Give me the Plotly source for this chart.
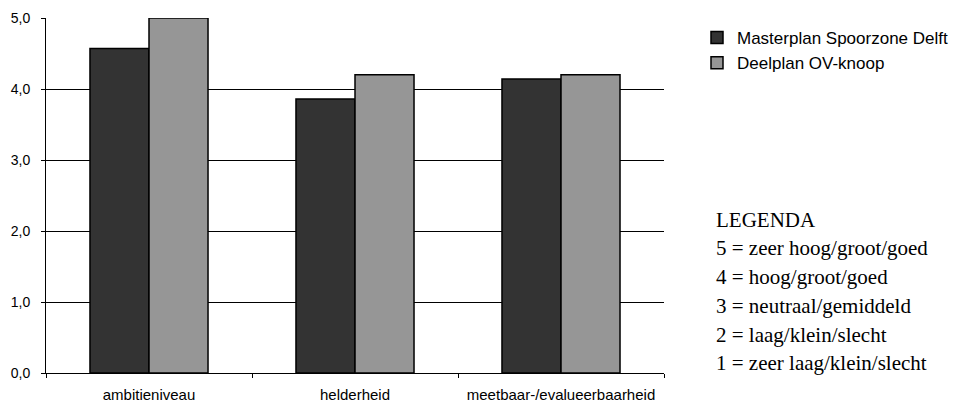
import plotly.graph_objects as go

# Scores per criterion for the two plans
categories = ["ambitieniveau", "helderheid", "meetbaar-/evalueerbaarheid"]
masterplan = [4.57, 3.86, 4.14]
deelplan = [5.0, 4.2, 4.2]
series_names = ["Masterplan Spoorzone Delft", "Deelplan OV-knoop"]
y_ticks = [0, 1, 2, 3, 4, 5]
legend_lines = [
    "LEGENDA",
    "5 = zeer hoog/groot/goed",
    "4 = hoog/groot/goed",
    "3 = neutraal/gemiddeld",
    "2 = laag/klein/slecht",
    "1 = zeer laag/klein/slecht",
]

W, H = 967, 403
L, R, T, B = 46, 303, 18, 30
plot_w = W - L - R
plot_h = H - T - B

sans = "Liberation Sans, Arial, sans-serif"
serif = "Liberation Serif, Times New Roman, serif"

fig = go.Figure()
fig.add_trace(go.Bar(
    x=categories, y=masterplan, name=series_names[0],
    marker=dict(color="#333333", line=dict(color="#000000", width=1.5)),
))
fig.add_trace(go.Bar(
    x=categories, y=deelplan, name=series_names[1],
    marker=dict(color="#969696", line=dict(color="#000000", width=1.5)),
))

# Text block explaining the score scale, placed right of the plot
line_y_px = [220, 248, 277, 306, 335, 363]
for txt, ypx in zip(legend_lines, line_y_px):
    fig.add_annotation(
        text=txt, xref="paper", yref="paper",
        x=(714 - L) / plot_w, y=(H - B - ypx) / plot_h,
        xanchor="left", yanchor="middle", showarrow=False,
        font=dict(family=serif, size=21, color="#000000"),
    )

fig.update_layout(
    width=W, height=H,
    margin=dict(l=L, r=R, t=T, b=B, pad=0, autoexpand=False),
    paper_bgcolor="white", plot_bgcolor="white",
    barmode="group", bargap=0.427, bargroupgap=0,
    separators=",.",
    font=dict(family=sans, size=14, color="#000000"),
    legend=dict(
        x=(697 - L) / plot_w, y=(H - B - 20) / plot_h,
        xanchor="left", yanchor="top",
        font=dict(family=sans, size=17, color="#000000"),
        bgcolor="rgba(0,0,0,0)", tracegroupgap=0,
    ),
    xaxis=dict(
        showline=True, linecolor="#000000", linewidth=1,
        ticks="outside", tickson="boundaries", ticklen=4, tickcolor="#000000",
        tickfont=dict(family=sans, size=15), showgrid=False,
        ticklabelstandoff=8, automargin=False,
    ),
    yaxis=dict(
        range=[0, 5], tickvals=y_ticks, tickformat=".1f",
        showline=True, linecolor="#000000", linewidth=1,
        ticks="outside", ticklen=4, tickcolor="#000000",
        showgrid=True, gridcolor="#000000", gridwidth=1,
        tickfont=dict(family=sans, size=14), zeroline=False,
        ticklabelstandoff=8, automargin=False,
    ),
)

fig.write_html("out.html")
